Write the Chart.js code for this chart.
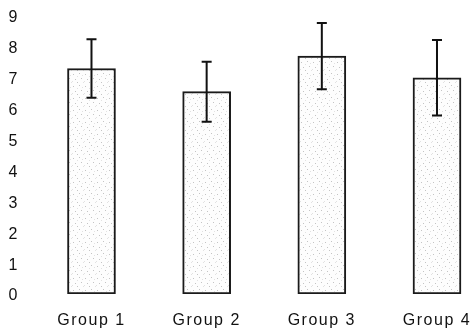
<!DOCTYPE html>
<html>
<head>
<meta charset="utf-8">
<script src="https://cdn.jsdelivr.net/npm/chart.js@4/dist/chart.umd.min.js"></script>
<style>
  html, body { margin: 0; padding: 0; background: #fff; }
  #wrap { width: 472px; height: 329px; position: relative; }
</style>
</head>
<body>
<div id="wrap"><canvas id="chart"></canvas></div>
<script>
// ===== Data =====
const categories = ["Group 1", "Group 2", "Group 3", "Group 4"];
const means = [7.3, 6.55, 7.7, 7.0];
const errors = [0.95, 0.97, 1.07, 1.22];
const yTicks = [0, 1, 2, 3, 4, 5, 6, 7, 8, 9];

// light stippled fill, like the printed original
function stipple() {
  const c = document.createElement("canvas");
  c.width = 12; c.height = 12;
  const g = c.getContext("2d");
  g.fillStyle = "#fdfdfd";
  g.fillRect(0, 0, 12, 12);
  g.fillStyle = "#c4c4c4";
  [[1, 2], [7, 1], [3, 7], [9, 6], [5, 10]].forEach(([x, y]) => g.fillRect(x, y, 1, 1));
  g.fillStyle = "#e2e2e2";
  [[0, 9], [10, 3], [5, 4], [11, 10]].forEach(([x, y]) => g.fillRect(x, y, 1, 1));
  return g.createPattern(c, "repeat");
}

// ===== Error bars =====
const errorBars = {
  id: "errorBars",
  afterDatasetsDraw(chart) {
    const ctx = chart.ctx;
    const y = chart.scales.y;
    chart.getDatasetMeta(0).data.forEach((bar, i) => {
      const top = y.getPixelForValue(means[i] + errors[i]);
      const bot = y.getPixelForValue(means[i] - errors[i]);
      ctx.save();
      ctx.strokeStyle = "#111";
      ctx.lineWidth = 2;
      ctx.beginPath();
      ctx.moveTo(bar.x, top); ctx.lineTo(bar.x, bot);
      ctx.moveTo(bar.x - 5, top); ctx.lineTo(bar.x + 5, top);
      ctx.moveTo(bar.x - 5, bot); ctx.lineTo(bar.x + 5, bot);
      ctx.stroke();
      ctx.restore();
    });
  }
};

const spacing = {
  id: "spacing",
  beforeDraw(chart) { chart.ctx.letterSpacing = "1.5px"; }
};

new Chart(document.getElementById("chart").getContext("2d"), {
  type: "bar",
  data: {
    datasets: [{
      data: means.map((v, i) => ({ x: i + 1, y: v })),
      backgroundColor: stipple(),
      borderColor: "#1a1a1a",
      borderWidth: 2,
      borderSkipped: false,
      barThickness: 48
    }]
  },
  options: {
    responsive: true,
    maintainAspectRatio: false,
    animation: false,
    layout: { padding: { top: 16, left: 6, right: 0, bottom: 0 } },
    plugins: { legend: { display: false }, tooltip: { enabled: false } },
    scales: {
      x: {
        type: "linear",
        offset: false,
        min: 0.414,
        max: 4.304,
        grid: { display: false, drawTicks: false },
        border: { display: false },
        afterBuildTicks: (s) => { s.ticks = categories.map((_, i) => ({ value: i + 1 })); },
        afterFit: (s) => { s.height = 35; s.paddingLeft = 0; s.paddingRight = 0; },
        ticks: {
          padding: 17,
          color: "#111",
          autoSkip: false,
          maxRotation: 0,
          font: { family: "'Liberation Sans', Arial, sans-serif", size: 16 },
          callback: (v) => categories[v - 1]
        }
      },
      y: {
        min: 0,
        max: 9,
        grid: { display: false, drawTicks: false },
        border: { display: false },
        afterBuildTicks: (s) => { s.ticks = yTicks.map(v => ({ value: v })); },
        afterFit: (s) => { s.width = 18; },
        ticks: {
          padding: 5,
          labelOffset: 2,
          color: "#111",
          font: { family: "'Liberation Sans', Arial, sans-serif", size: 16 }
        }
      }
    }
  },
  plugins: [errorBars, spacing]
});
</script>
</body>
</html>
